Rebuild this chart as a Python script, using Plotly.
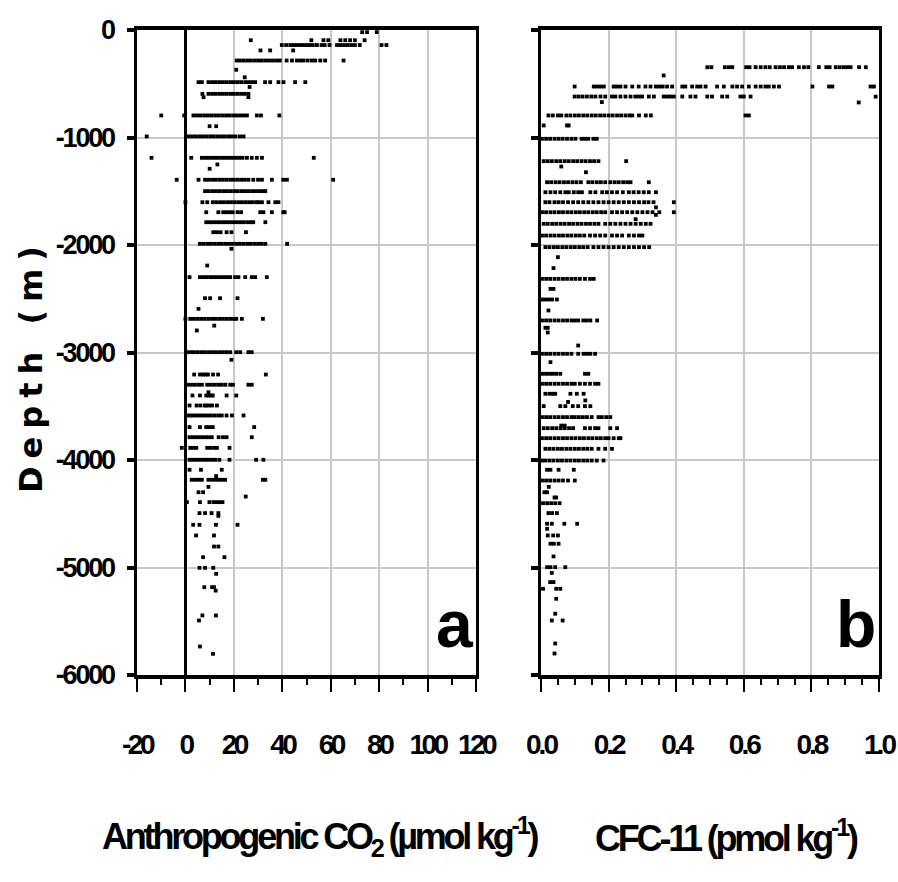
import plotly.graph_objects as go

# ---------------- Panel a: Anthropogenic CO2 (umol/kg) vs depth (m) ----------------
co2_depths = [-20, -95, -140, -190, -284, -370, -440, -485, -530, -594, -625,
              -795, -895, -990, -1189, -1251, -1291, -1393, -1499, -1602, -1695,
              -1788, -1881, -1989, -2035, -2191, -2299, -2495, -2594, -2687, -2750,
              -2795, -2997, -3068, -3205, -3300, -3370, -3400, -3493, -3586, -3694,
              -3788, -3887, -3998, -4091, -4150, -4184, -4250, -4300, -4340, -4392,
              -4494, -4520, -4603, -4702, -4805, -4904, -5003, -5059, -5183, -5215,
              -5446, -5493, -5735, -5803]
co2_values = [
    [73, 75, 79],
    [27, 52, 57, 59, 64, 66, 68, 70, 74],
    [39.8, 41.6, 43.3, 44.7, 46, 47.3, 48.6, 50, 51.3, 52.6, 54.3, 56.2, 57.5, 59.5,
     62.6, 64, 65.5, 67, 68.5, 70, 72, 81, 83],
    [31, 35, 44.5],
    [21.2, 22.5, 24, 25.5, 27, 28.5, 30, 31.5, 33, 34.5, 36, 37.5, 39, 41.8, 44, 46,
     47.4, 48.8, 50.5, 52.2, 53.6, 55.7, 57.7, 65.3],
    [21],
    [24.5],
    [5.4, 6.8, 9.5, 11, 12.5, 14, 15.5, 17, 18.5, 20, 21.5, 23, 24.7, 26, 27.4, 28.8,
     32.9, 35, 38.4, 40.5, 45.3, 49.5],
    [26.5],
    [7, 9.5, 11, 12.5, 14, 15.5, 17, 18.5, 20, 21.5, 23, 24.5, 26],
    [7.5, 26],
    [-10, -0.5, 3.3, 4.8, 6.3, 7.8, 9.3, 10.8, 12.3, 13.8, 15.3, 16.8, 18.3, 19.8,
     21.2, 22.6, 24, 25.4, 29.5, 31.2, 38.8],
    [10, 12.7],
    [-16, 1.2, 2.7, 4.2, 5.7, 7.2, 8.7, 10.2, 11.7, 13.2, 14.7, 16.2, 17.7, 19.2,
     20.7, 22.5, 24],
    [-14, 2.4, 6.8, 8.2, 9.6, 11, 12.4, 13.8, 15.2, 16.6, 18, 19.4, 20.8, 22.2, 23.6,
     25.4, 27.4, 29.5, 31.6, 53],
    [13.2],
    [10],
    [-3.6, 5.4, 8.1, 9.5, 11, 12.5, 14, 15.5, 17, 18.5, 20, 21.5, 23, 24.5, 26, 28,
     30, 31.6, 35.7, 40.4, 41.9, 61],
    [8.1, 9.6, 11.1, 12.6, 14.1, 15.6, 17.1, 18.6, 20.1, 21.6, 23.1, 24.6, 26.1,
     27.6, 29.1, 30.6, 32, 33],
    [0, 7, 9, 11.3, 12.8, 14.3, 15.8, 17.3, 18.8, 20.3, 21.8, 23.3, 24.8, 26.3, 27.8,
     29.3, 30.2, 31.6, 34.3, 37.1, 38.4],
    [8.6, 13.6, 15.6, 16.8, 18.2, 19.5, 21.5, 23, 30.9, 32.2, 35.7, 40.4, 41],
    [8.6, 10, 11.4, 12.8, 14.2, 15.6, 17, 18.4, 19.8, 21.2, 22.6, 24, 25.5, 27, 28, 33],
    [11.5, 13, 14.5, 17, 19, 25],
    [6, 7.5, 9, 10.5, 12, 13.5, 15, 16.5, 18, 19.5, 21, 22.5, 24, 25.5, 27, 28.5, 30,
     31.5, 33, 42],
    [19],
    [9],
    [1.7, 6, 7.4, 8.8, 10.2, 11.6, 13, 14.4, 15.8, 17.2, 18.5, 20.5, 21.9, 24.7,
     27.4, 28.8, 33.6],
    [8.1, 10.2, 14.3, 21.5],
    [5.4],
    [0, 2, 3.5, 5, 6.5, 8, 9.5, 11, 12.5, 14, 15.5, 17, 18.5, 20, 21, 23.3, 32],
    [11.9],
    [4.7],
    [0.6, 2, 3.5, 5, 6.5, 8, 9.5, 11, 12.5, 14, 15.5, 17, 18.5, 21, 22.6, 26, 27.4],
    [19],
    [3.6, 6, 7.3, 8.3, 9.3, 11.4, 13.5, 33.2],
    [0.8, 2.3, 3.8, 5.3, 6.8, 9, 10.5, 12, 13.5, 15, 16.5, 18.5, 19.6, 26, 27.4],
    [9.5],
    [2.9, 6, 8.6, 9.6, 10.4, 11.3, 17, 21],
    [1.7, 4.6, 6.2, 8, 8.6, 9.8, 11, 13],
    [0.6, 1.8, 3, 4.2, 5.4, 6.6, 7.8, 9.2, 10.5, 12, 13.5, 15, 17, 19.2, 24],
    [1.7, 6, 8.6, 10, 11.3, 28.4],
    [1.7, 3, 4.3, 5.6, 7, 8.3, 9.6, 10.9, 13.7, 15.5, 17, 27.4],
    [-1.5, 2, 3.2, 4.5, 9, 10.5, 12, 13, 18.2],
    [1.7, 3, 4.3, 5.6, 7, 8.3, 9.6, 11, 12.3, 14, 18.2, 29.2, 32.2],
    [1.7, 6.4, 15],
    [12.7],
    [2.6, 4, 5.4, 6.8, 9.5, 11, 12.5, 13.9, 15.2, 16.4, 32, 33],
    [9.5],
    [5.4, 7.3],
    [24.9],
    [0.6, 6, 9.9, 11.6, 12.8, 14, 15.3],
    [5.8, 8.1, 10.8, 13.6],
    [13.6],
    [3.2, 5.8, 12.6, 21.5],
    [4.4, 11.8],
    [11.8, 13.6],
    [7.3, 16.1],
    [5.8, 8.1, 11.5],
    [12.7],
    [7.8, 11, 11.8],
    [12.5],
    [7, 12.6],
    [5.6],
    [6],
    [11.4],
]

# ---------------- Panel b: CFC-11 (pmol/kg) vs depth (m) ----------------
cfc_depths = [-346, -423, -526, -619, -620, -671, -674, -795, -888, -1012, -1220,
              -1270, -1323, -1416, -1509, -1602, -1650, -1695, -1720, -1760, -1803,
              -1912, -2020, -2113, -2215, -2315, -2408, -2507, -2609, -2702, -2770,
              -2814, -2935, -3012, -3090, -3198, -3291, -3384, -3446, -3460, -3499,
              -3601, -3680, -3704, -3797, -3896, -4005, -4091, -4191, -4250, -4300,
              -4349, -4402, -4494, -4593, -4640, -4702, -4779, -4897, -4997, -5050,
              -5136, -5198, -5291, -5430, -5493, -5707, -5800]
cfc_values = [
    [0.492, 0.504, 0.544, 0.556, 0.566, 0.607, 0.617, 0.635, 0.65, 0.664, 0.677,
     0.694, 0.707, 0.719, 0.733, 0.743, 0.763, 0.778, 0.791, 0.822, 0.844, 0.854,
     0.872, 0.884, 0.896, 0.906, 0.916, 0.941, 0.961],
    [0.363],
    [0.0996, 0.156, 0.166, 0.176, 0.186, 0.215, 0.225, 0.235, 0.25, 0.27, 0.289,
     0.309, 0.324, 0.34, 0.35, 0.36, 0.373, 0.388, 0.418, 0.427, 0.447, 0.462, 0.472,
     0.487, 0.521, 0.541, 0.566, 0.58, 0.595, 0.615, 0.635, 0.65, 0.664, 0.674,
     0.689, 0.704, 0.803, 0.852, 0.862, 0.975, 0.985],
    [0.0995, 0.111, 0.123, 0.136, 0.149, 0.161, 0.176, 0.19, 0.21, 0.22, 0.235, 0.25,
     0.265, 0.279, 0.289, 0.299, 0.319, 0.334, 0.363, 0.373, 0.383, 0.393, 0.418,
     0.442, 0.457, 0.492, 0.506, 0.536, 0.551, 0.59, 0.6, 0.62],
    [0.99],
    [0.18],
    [0.94],
    [0.022, 0.035, 0.05, 0.06, 0.075, 0.087, 0.1, 0.112, 0.125, 0.137, 0.15, 0.162,
     0.175, 0.187, 0.2, 0.212, 0.225, 0.237, 0.25, 0.262, 0.27, 0.29, 0.31, 0.325,
     0.605, 0.615],
    [0.008, 0.077, 0.082],
    [0.003, 0.015, 0.027, 0.04, 0.052, 0.064, 0.077, 0.09, 0.102, 0.12, 0.13, 0.14,
     0.155, 0.165],
    [0.008, 0.02, 0.032, 0.045, 0.057, 0.07, 0.082, 0.095, 0.107, 0.12, 0.132, 0.145,
     0.157, 0.17, 0.252],
    [0.06],
    [0.133],
    [0.018, 0.03, 0.043, 0.055, 0.068, 0.08, 0.093, 0.105, 0.118, 0.14, 0.152, 0.165,
     0.177, 0.19, 0.205, 0.218, 0.23, 0.243, 0.255, 0.265, 0.319],
    [0.013, 0.028, 0.042, 0.057, 0.072, 0.082, 0.097, 0.11, 0.121, 0.146, 0.161,
     0.181, 0.195, 0.21, 0.225, 0.242, 0.26, 0.274, 0.289, 0.304, 0.319, 0.34],
    [0.013, 0.025, 0.04, 0.052, 0.065, 0.08, 0.095, 0.11, 0.125, 0.14, 0.155, 0.17,
     0.185, 0.2, 0.215, 0.23, 0.245, 0.26, 0.275, 0.29, 0.305, 0.318, 0.333, 0.393],
    [0.34],
    [0.003, 0.015, 0.028, 0.04, 0.053, 0.065, 0.078, 0.09, 0.103, 0.115, 0.128, 0.14,
     0.153, 0.165, 0.178, 0.19, 0.21, 0.225, 0.24, 0.255, 0.27, 0.285, 0.3, 0.315,
     0.33, 0.35, 0.393],
    [0.34],
    [0.28],
    [0.008, 0.02, 0.033, 0.045, 0.058, 0.07, 0.083, 0.095, 0.108, 0.12, 0.133, 0.145,
     0.158, 0.17, 0.19, 0.205, 0.22, 0.235, 0.25, 0.265, 0.28, 0.295, 0.31, 0.324],
    [0.003, 0.015, 0.028, 0.04, 0.053, 0.065, 0.078, 0.09, 0.103, 0.115, 0.128, 0.145,
     0.16, 0.175, 0.19, 0.21, 0.225, 0.24, 0.26, 0.275, 0.29, 0.3],
    [0.013, 0.025, 0.038, 0.05, 0.063, 0.075, 0.088, 0.1, 0.113, 0.125, 0.138, 0.155,
     0.17, 0.185, 0.2, 0.215, 0.23, 0.245, 0.26, 0.275, 0.29, 0.305, 0.32],
    [0.05],
    [0.037],
    [0.003, 0.015, 0.027, 0.04, 0.052, 0.065, 0.077, 0.09, 0.102, 0.115, 0.13, 0.145,
     0.156],
    [0.028, 0.037],
    [0.003, 0.013, 0.023, 0.033, 0.047],
    [0.022],
    [0.003, 0.015, 0.027, 0.04, 0.052, 0.065, 0.077, 0.09, 0.1, 0.11, 0.125, 0.135,
     0.146, 0.166],
    [0.013, 0.02],
    [0.02],
    [0.11],
    [0.003, 0.015, 0.027, 0.04, 0.052, 0.065, 0.077, 0.09, 0.11, 0.126, 0.136, 0.146,
     0.16],
    [0.028],
    [0.005, 0.015, 0.025, 0.035, 0.045, 0.057, 0.13, 0.14],
    [0.003, 0.015, 0.027, 0.04, 0.052, 0.065, 0.077, 0.09, 0.1, 0.115, 0.13, 0.145,
     0.16, 0.17],
    [0.013, 0.025, 0.035, 0.042, 0.087, 0.106, 0.126],
    [0.131],
    [0.08],
    [0.008, 0.057, 0.072, 0.094, 0.11, 0.13, 0.146],
    [0.003, 0.015, 0.027, 0.04, 0.052, 0.065, 0.077, 0.09, 0.1, 0.112, 0.124, 0.136,
     0.15, 0.17, 0.18, 0.193, 0.205],
    [0.06, 0.07],
    [0.008, 0.02, 0.033, 0.045, 0.058, 0.07, 0.083, 0.095, 0.13, 0.145, 0.16, 0.17,
     0.205, 0.225],
    [0.003, 0.015, 0.027, 0.04, 0.052, 0.065, 0.077, 0.09, 0.102, 0.115, 0.127, 0.14,
     0.152, 0.165, 0.177, 0.19, 0.2, 0.215, 0.23, 0.235],
    [0.013, 0.025, 0.037, 0.05, 0.062, 0.075, 0.087, 0.1, 0.112, 0.125, 0.137, 0.15,
     0.17, 0.19, 0.21],
    [0.003, 0.013, 0.025, 0.037, 0.05, 0.062, 0.075, 0.087, 0.1, 0.112, 0.125, 0.137,
     0.15, 0.165, 0.185],
    [0.018, 0.028, 0.052, 0.097],
    [0.003, 0.015, 0.027, 0.04, 0.052, 0.065, 0.08, 0.1],
    [0.023],
    [0.01, 0.018],
    [0.04, 0.045],
    [0.006, 0.018, 0.03, 0.042, 0.055],
    [0.022, 0.033, 0.047],
    [0.018, 0.032, 0.069, 0.107],
    [0.018],
    [0.02, 0.036, 0.05],
    [0.028, 0.038, 0.052],
    [0.037],
    [0.018, 0.028, 0.042, 0.072],
    [0.032],
    [0.027, 0.037],
    [0.006, 0.045, 0.057],
    [0.045],
    [0.042],
    [0.032, 0.064],
    [0.042],
    [0.04],
]

# Axis ticks / labels
depth_ticks = [0, -1000, -2000, -3000, -4000, -5000, -6000]
depth_labels = ["0", "-1000", "-2000", "-3000", "-4000", "-5000", "-6000"]
co2_ticks = [-20, 0, 20, 40, 60, 80, 100, 120]
co2_labels = ["-20", "0", "20", "40", "60", "80", "100", "120"]
cfc_ticks = [0.0, 0.2, 0.4, 0.6, 0.8, 1.0]
cfc_labels = ["0.0", "0.2", "0.4", "0.6", "0.8", "1.0"]


def flatten(depths, values):
    xs, ys = [], []
    for d, row in zip(depths, values):
        for v in row:
            xs.append(v)
            ys.append(d)
    return xs, ys


def narrow(s, ls):
    return "<span style='letter-spacing:%spx'>%s</span>" % (ls, s)


co2_x, co2_y = flatten(co2_depths, co2_values)
cfc_x, cfc_y = flatten(cfc_depths, cfc_values)

FONT = "Liberation Sans, Arial, sans-serif"
W, H = 898, 882

fig = go.Figure()
marker = dict(symbol="square", size=3.8, color="black", line=dict(width=0))
fig.add_trace(go.Scatter(x=co2_x, y=co2_y, mode="markers", marker=marker,
                         xaxis="x", yaxis="y", showlegend=False))
fig.add_trace(go.Scatter(x=cfc_x, y=cfc_y, mode="markers", marker=marker,
                         xaxis="x2", yaxis="y2", showlegend=False))

ytick_font = dict(family=FONT, size=27, color="black", weight="bold")
xtick_font = dict(family=FONT, size=28, color="black", weight="bold")
ydom = [1 - 675 / H, 1 - 30 / H]

common_x = dict(showline=True, linecolor="black", linewidth=4, mirror=True,
                showgrid=True, gridcolor="#c8c8c8", gridwidth=1.5,
                ticks="outside", ticklen=13, tickwidth=1.5, tickcolor="black",
                tickfont=xtick_font, ticklabelstandoff=28, tickmode="array",
                tickangle=0, automargin=False)
common_y = dict(showline=True, linecolor="black", linewidth=2.5, mirror=True,
                showgrid=True, gridcolor="#c8c8c8", gridwidth=1.5,
                ticks="outside", ticklen=7, tickwidth=4, tickcolor="black",
                range=[-6000, 0], tickmode="array", tickvals=depth_ticks,
                tickfont=ytick_font, zeroline=False, automargin=False,
                domain=ydom)

fig.update_layout(
    width=W, height=H,
    margin=dict(l=0, r=0, t=0, b=0),
    paper_bgcolor="white", plot_bgcolor="white",
    xaxis=dict(**common_x, domain=[137 / W, 476 / W], range=[-20, 120],
               tickvals=co2_ticks, ticktext=[narrow(t, -3.5) for t in co2_labels],
               zeroline=True, zerolinecolor="black", zerolinewidth=2.5,
               minor=dict(dtick=10, tick0=0, ticks="outside", ticklen=6,
                          tickwidth=1.5, tickcolor="black", showgrid=False),
               anchor="y"),
    yaxis=dict(**common_y, anchor="x", ticklabelstandoff=8,
               ticktext=[narrow(t, -2.2) for t in depth_labels]),
    xaxis2=dict(**common_x, domain=[541 / W, 879 / W], range=[0, 1.0],
                tickvals=cfc_ticks, ticktext=[narrow(t, -3) for t in cfc_labels],
                zeroline=False,
                minor=dict(dtick=0.05, tick0=0, ticks="outside", ticklen=6,
                           tickwidth=1.5, tickcolor="black", showgrid=False),
                anchor="y2"),
    yaxis2=dict(**common_y, anchor="x2", showticklabels=False),
)

title_font = dict(family=FONT, size=36, color="black", weight="bold")
fig.add_annotation(text=narrow("Anthropogenic CO<sub>2</sub> (µmol kg<sup>-1</sup>)", -3.2),
                   x=320 / W, y=1 - 836 / H, xref="paper", yref="paper",
                   showarrow=False, font=title_font, xanchor="center", yanchor="middle")
fig.add_annotation(text=narrow("CFC-11 (pmol kg<sup>-1</sup>)", -3.2),
                   x=726 / W, y=1 - 836 / H, xref="paper", yref="paper",
                   showarrow=False, font=title_font, xanchor="center", yanchor="middle")
fig.add_annotation(text=narrow("Depth (m)", 8),
                   x=31 / W, y=1 - 366 / H, xref="paper", yref="paper",
                   showarrow=False, textangle=-90,
                   font=dict(family="DejaVu Sans", size=32, color="black", weight="bold"),
                   xanchor="center", yanchor="middle")
letter_font = dict(family=FONT, size=66, color="black", weight="bold")
fig.add_annotation(text="a", x=455 / W, y=1 - 624 / H, xref="paper",
                   yref="paper", showarrow=False, font=letter_font,
                   xanchor="center", yanchor="middle")
fig.add_annotation(text="b", x=856 / W, y=1 - 624 / H, xref="paper",
                   yref="paper", showarrow=False, font=letter_font,
                   xanchor="center", yanchor="middle")

fig.write_html("out.html", config={"displayModeBar": False},
               post_script="document.body.style.margin='0px';")
